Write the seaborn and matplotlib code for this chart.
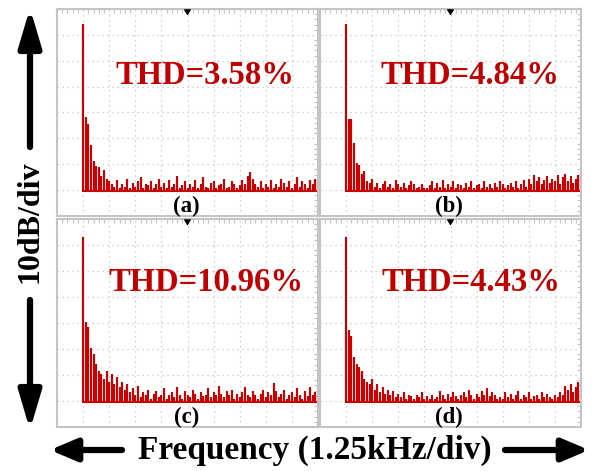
#! /usr/bin/env python3

import matplotlib
matplotlib.use('Agg')
import matplotlib.pyplot as plt
from matplotlib.patches import FancyArrowPatch
from matplotlib.ticker import MultipleLocator
import numpy as np
import pandas as pd
import seaborn as sns


# spectrum heights in dB (10 dB per division), one bin every 0.1 div from 1 to 10 div
spec_a = [73.7, 38, 35, 27, 21, 19, 18.5, 15, 17.5, 14,
          13, 12, 11, 13.5, 10.5, 12, 11, 14, 10.5, 12.5,
          11, 13, 14.5, 10.5, 12, 11.5, 13, 10.5, 12, 14,
          11, 12.5, 10.5, 13.5, 11, 12, 15, 10.5, 11.5, 13,
          10.5, 12, 11, 13.5, 10.5, 12, 14.5, 11, 10.5, 12.5,
          13, 10.5, 11.5, 12, 14, 10.5, 11, 13, 12, 10.5,
          11.5, 13.5, 12, 15, 16.5, 14, 12, 11, 13, 10.5,
          12, 11, 13.5, 10.5, 12, 11, 14, 12.5, 11, 13,
          10.5, 12, 14.5, 11, 13, 12, 10.5, 13.5, 12, 14, 13.5]
spec_b = [73.7, 37, 37, 28, 20, 19.5, 16, 17, 13, 12.5,
          14, 11, 12.5, 10.5, 12, 13, 11, 12, 10.5, 13.5,
          12, 11, 12.5, 10.5, 11.5, 13, 12, 10.5, 11, 12,
          10.5, 10.5, 11.5, 13, 10.5, 12.5, 11, 13.5, 10.5, 12,
          11, 13, 10.5, 12, 11.5, 10.5, 12.5, 11, 13, 10.5,
          11.5, 12, 10.5, 13, 11, 12, 10.5, 12.5, 11, 13,
          12, 10.5, 11.5, 12.5, 11, 13, 10.5, 12, 13.5, 11,
          14, 12, 15.5, 13, 14.5, 12, 13.5, 15, 12.5, 14,
          13, 15.5, 12, 14.5, 16, 13, 15, 12.5, 14, 15.5, 16.5]
spec_c = [72.7, 40, 38, 30, 27.7, 24, 21, 20, 18, 21,
          17, 20, 16, 19, 15, 17, 14, 16, 13, 14.5,
          12, 15.5, 11, 13, 12, 14, 10.5, 12.5, 13.5, 11,
          12, 14.5, 10.5, 12, 13, 11, 15, 12, 10.5, 13.5,
          12, 11, 14, 12.5, 10.5, 13, 11.5, 12, 14.5, 11,
          13, 12, 15.5, 12.5, 11, 13.5, 12, 14, 10.5, 12.5,
          11, 13, 15, 12, 11, 13.5, 12, 10.5, 12.5, 14,
          11, 13, 12, 16.5, 13.5, 11, 12.5, 14, 10.5, 12,
          13, 11, 14.5, 12, 10.5, 13.5, 11.5, 15, 12, 13, 12.5]
spec_d = [72.7, 37, 34.6, 26.5, 24, 22.7, 21, 18, 17, 16,
          18, 14, 16, 13, 15, 12.5, 14, 12, 13.5, 11,
          12.5, 11, 13, 10.5, 12, 11.5, 10.5, 12, 11, 13,
          10.5, 11.5, 10.5, 12, 10.5, 11, 13.5, 12, 10.5, 12.5,
          11, 13, 11.5, 10.5, 12, 13, 11, 14, 12, 10.5,
          12.5, 11, 13.5, 12, 14.5, 11.5, 13, 12, 10.5, 11,
          10.5, 13, 11, 12.5, 10.5, 12, 13.5, 10.5, 12, 11,
          13, 10.5, 11.5, 12, 10.5, 13, 11, 12.5, 11, 10.5,
          12, 11, 13, 12, 15.5, 14, 16, 13, 15, 17, 14]

spectra = [spec_a, spec_b, spec_c, spec_d]
thd_labels = ['THD=3.58%', 'THD=4.84%', 'THD=10.96%', 'THD=4.43%']
panel_labels = ['(a)', '(b)', '(c)', '(d)']
floor_db = 9.5

red = '#c00000'
trace_red = '#cc0000'
grid_grey = '#c4c4c4'

sns.set_style('white')
plt.rcParams['font.family'] = ['Liberation Serif', 'DejaVu Serif']
plt.rcParams['font.weight'] = 'bold'

W, H = 595, 471
fig = plt.figure(figsize=(W / 100, H / 100), dpi=100)

# panel boxes in pixels (left, top, width, height)
boxes = [(57, 9, 261, 207), (320, 9, 261, 207),
         (57, 219, 261, 208), (320, 219, 261, 208)]
text_pos = [(5.65, 54.4), (5.73, 54.4), (5.72, 55.4), (5.77, 55.4)]


def spike_frame(heights):
    freq = np.linspace(1.0, 10.0, len(heights))
    xs, ys = [], []
    for f, h in zip(freq, heights):
        xs += [f, f, f]
        ys += [floor_db, h, floor_db]
    return pd.DataFrame({'freq': xs, 'level': ys})


for k, (l, t, w, h) in enumerate(boxes):
    ax = fig.add_axes([l / W, 1 - (t + h) / H, w / W, h / H])
    df = spike_frame(spectra[k])
    sns.lineplot(data=df, x='freq', y='level', ax=ax, sort=False,
                 estimator=None, color=trace_red, lw=1.5)
    ax.set_xlim(0, 10)
    ax.set_ylim(0, 80)
    ax.xaxis.set_major_locator(MultipleLocator(1))
    ax.yaxis.set_major_locator(MultipleLocator(10))
    ax.xaxis.set_minor_locator(MultipleLocator(0.2))
    ax.yaxis.set_minor_locator(MultipleLocator(2))
    ax.grid(True, which='major', color=grid_grey, lw=0.9,
            linestyle=(0, (1, 3)))
    ax.tick_params(which='both', direction='in', top=True, right=True,
                   labelbottom=False, labelleft=False, color=grid_grey)
    ax.tick_params(which='major', length=0)
    ax.tick_params(which='minor', length=3, width=0.8)
    ax.set_xlabel('')
    ax.set_ylabel('')
    for sp in ax.spines.values():
        sp.set_color(grid_grey)
        sp.set_linewidth(1.5)
    # trigger marker at top centre
    ax.annotate('', xy=(5, 76.5), xytext=(5, 79.5),
                arrowprops=dict(arrowstyle='-|>,head_length=0.3,head_width=0.2',
                                color='black', lw=1))
    tx, ty = text_pos[k]
    ax.text(tx, ty, thd_labels[k], color=red, fontsize=23.5,
            fontweight='bold', ha='center', va='center')
    ax.text(4.95, 3.6, panel_labels[k], color='black', fontsize=16.5,
            fontweight='bold', ha='center', va='center')

fig.text(30 / W, 1 - 222 / H, '10dB/div', rotation=90, fontsize=23,
         fontweight='bold', ha='center', va='center', color='black')
fig.text(315 / W, 1 - 450 / H, 'Frequency (1.25kHz/div)', fontsize=24,
         fontweight='bold', ha='center', va='center', color='black')
for tail, tip, hl in [((30, 324), (30, 463), 1.15), ((30, 171), (30, 41), 1.15),
                      ((122, 21), (50, 21), 0.8), ((505, 21), (589, 21), 0.8)]:
    fig.add_artist(FancyArrowPatch(
        (tail[0] / W, tail[1] / H), (tip[0] / W, tip[1] / H),
        transform=fig.transFigure,
        arrowstyle=f'-|>,head_length={hl},head_width=0.34',
        mutation_scale=20, color='black', lw=4.5, capstyle='round',
        shrinkA=0, shrinkB=0))

fig.savefig('out.png', dpi=100)
